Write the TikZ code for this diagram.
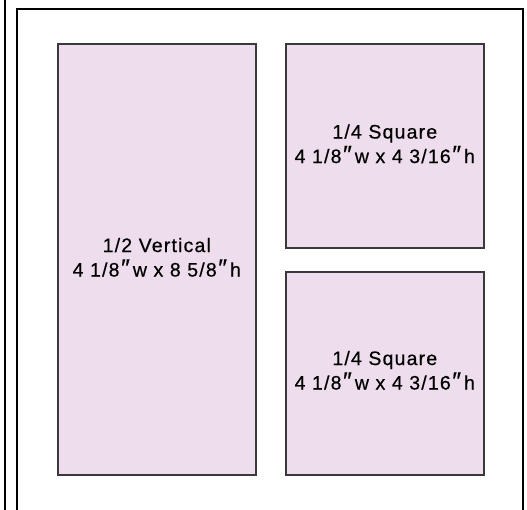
\documentclass[tikz,border=0pt]{standalone}
\usepackage{fontspec}
\setmainfont[LetterSpace=6,FakeBold=0.5]{Liberation Sans}
\definecolor{adfill}{HTML}{EEDEED}
\definecolor{adline}{HTML}{3A3A3A}
\newcommand{\inch}{\kern1.5pt{\fontsize{25}{25}\selectfont ″}\kern3pt}
\begin{document}
\begin{tikzpicture}[x=1pt,y=-1pt,
  frame/.style={draw=black,line width=1.4pt},
  adbox/.style={draw=adline,fill=adfill,line width=1.6pt},
  adtext/.style={align=center,font=\fontsize{19.5}{24.5}\selectfont,inner sep=0pt}]
\useasboundingbox (0,0) rectangle (527,509);
\draw[frame] (5,-5) -- (5,515);
\draw[frame] (17,515) |- (523,9) -- (523,515);
\node[adbox,minimum width=198pt,minimum height=431pt,anchor=north west] (half) at (57,43) {};
\node[adbox,minimum width=198pt,minimum height=204pt,anchor=north west] (q1) at (285,43) {};
\node[adbox,minimum width=198pt,minimum height=203pt,anchor=north west] (q2) at (285,271) {};
\node[adtext] (t1) at ([yshift=2pt]half.center) {1/2 Vertical\\4 1/8\inch w x 8 5/8\inch h};
\node[adtext] (t2) at ([yshift=2pt]q1.center) {1/4 Square\\4 1/8\inch w x 4 3/16\inch h};
\node[adtext] (t3) at ([yshift=3pt]q2.center) {1/4 Square\\4 1/8\inch w x 4 3/16\inch h};
\end{tikzpicture}
\end{document}
